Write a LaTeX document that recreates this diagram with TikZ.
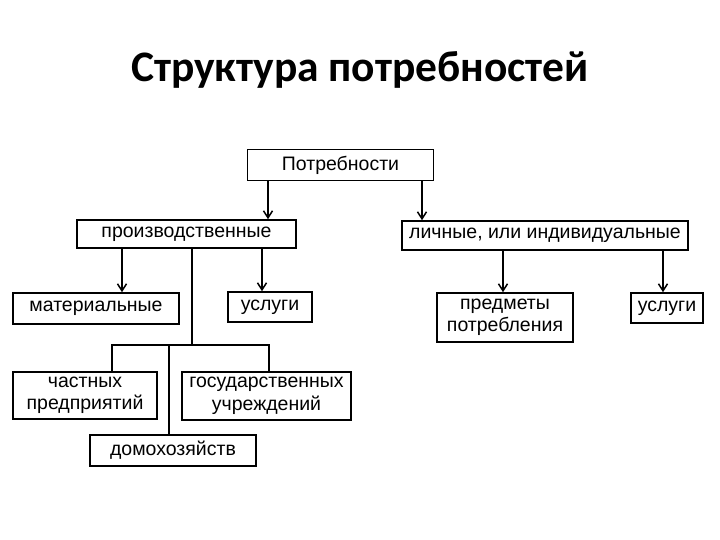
\documentclass[tikz,border=0pt]{standalone}
\usepackage{fontspec}
\setmainfont{Liberation Sans}
\newfontfamily\titlefont{Carlito}
\usetikzlibrary{arrows.meta}
\tikzset{>={Straight Barb[length=7pt,width=9pt]}}
\tikzset{
  box/.style={draw,line width=1.6pt,inner sep=0pt,align=center,
    font=\fontsize{19.5}{22.5}\selectfont},
  link/.style={line width=1.5pt},
}

\begin{document}
\begin{tikzpicture}[x=1pt,y=-1pt]

  \useasboundingbox (0,0) rectangle (720,540);

  \node[anchor=base,font=\titlefont\bfseries\fontsize{43.5}{48}\selectfont] (title) at (360,82) {Структура потребностей};

  \node[box,minimum width=186pt,minimum height=31pt] (potr) at (340.5,165) {Потребности};
  \node[box,minimum width=219pt,minimum height=28pt] (proizv) at (186.5,234) {производственные};
  \node[box,minimum width=286pt,minimum height=29pt] (lich) at (545,235.5) {личные, или индивидуальные};

  \node[box,minimum width=166pt,minimum height=31pt] (mater) at (96,308.5) {материальные};
  \node[box,minimum width=84pt,minimum height=30pt] (usl1) at (270,307) {услуги};
  \node[box,minimum width=136pt,minimum height=49pt] (predm) at (505,317.5) {предметы\\потребления};
  \node[box,minimum width=72pt,minimum height=30pt] (usl2) at (667,308) {услуги};

  \node[box,minimum width=144pt,minimum height=47pt] (chast) at (85,395.5) {частных\\предприятий};
  \node[box,minimum width=169pt,minimum height=48pt] (gos) at (266.5,396) {государственных\\учреждений};
  \node[box,minimum width=166pt,minimum height=31pt] (dom) at (173,450.5) {домохозяйств};

  \coordinate (jn) at (192,345);

  \draw[link,->] ([xshift=-72.5pt]potr.south) -- ([xshift=81.5pt]proizv.north);
  \draw[link,->] ([xshift=81.5pt]potr.south) -- ([xshift=-123pt]lich.north);

  \draw[link,->] ([xshift=-64.5pt]proizv.south) -- ([xshift=26pt]mater.north);
  \draw[link,->] ([xshift=75.5pt]proizv.south) -- ([xshift=-8pt]usl1.north);
  \draw[link,->] ([xshift=-42pt]lich.south) -- ([xshift=-2pt]predm.north);
  \draw[link,->] ([xshift=118pt]lich.south) -- ([xshift=-4pt]usl2.north);

  \draw[link] ([xshift=5.5pt]proizv.south) -- (jn);
  \draw[link] ([xshift=27pt]chast.north) |- (jn) -| ([xshift=2.5pt]gos.north);
  \draw[link] ([xshift=-4pt]dom.north) -- ([xshift=-4pt]dom.north |- jn);

\end{tikzpicture}
\end{document}
